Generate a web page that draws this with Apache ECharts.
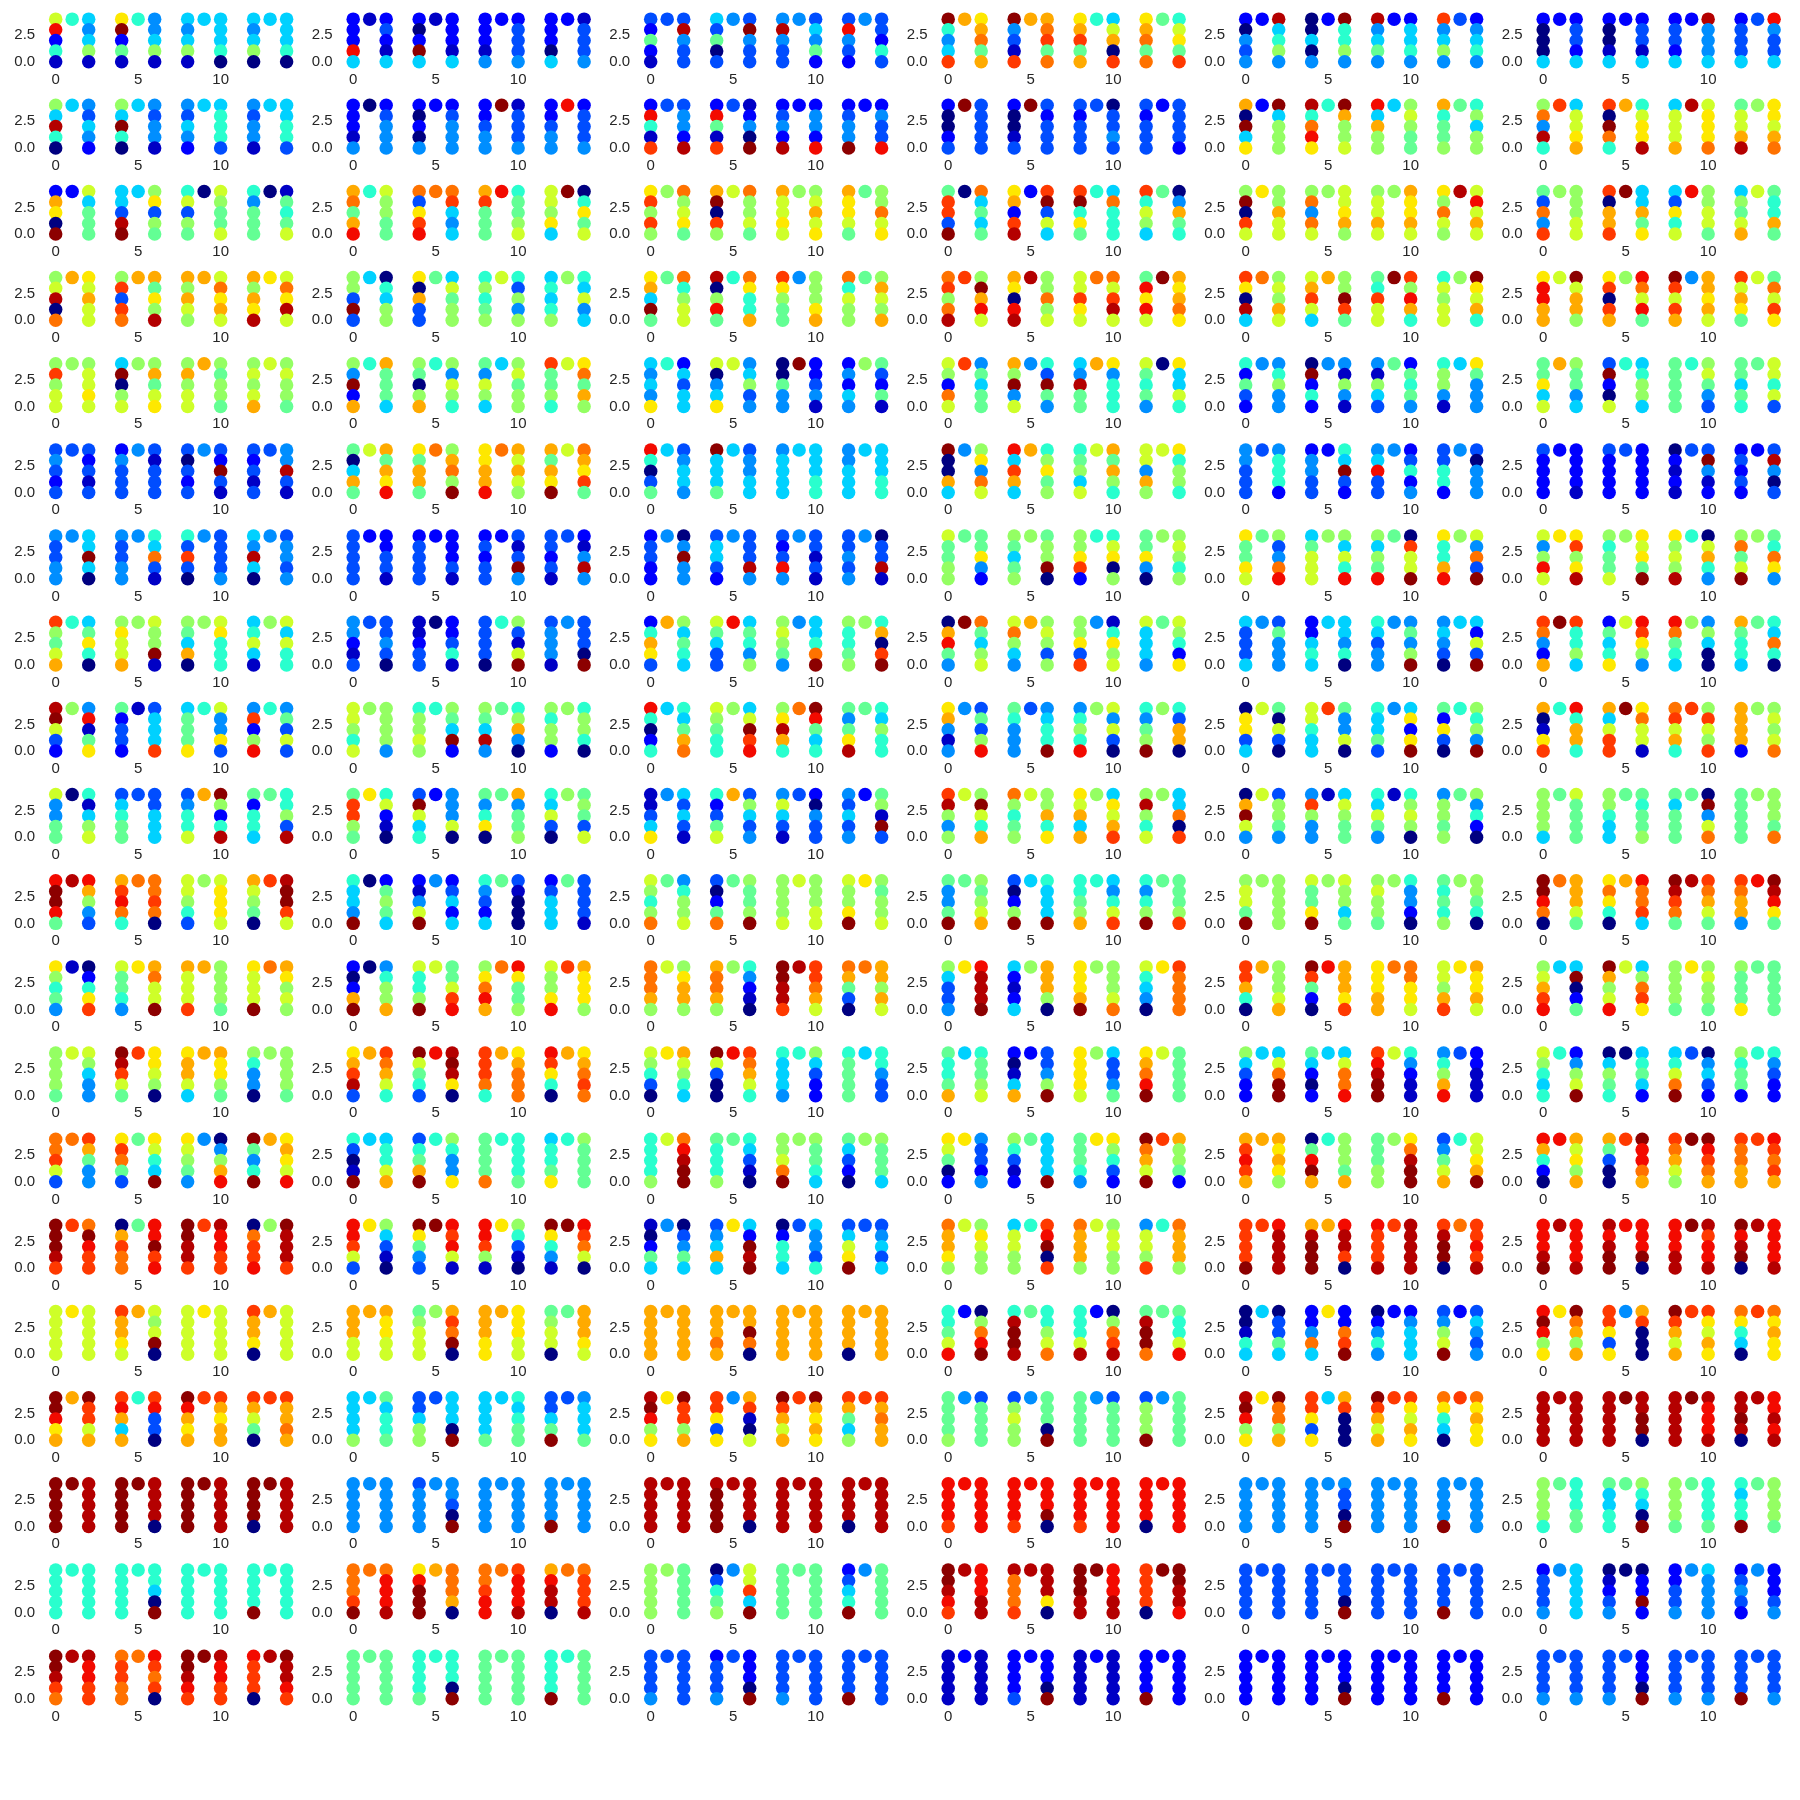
<!DOCTYPE html>
<html>
<head>
<meta charset="utf-8">
<script src="https://cdn.jsdelivr.net/npm/echarts@6/dist/echarts.min.js"></script>
<style>
html,body{margin:0;padding:0;background:#ffffff;}
#chart{width:1800px;height:1800px;}
</style>
</head>
<body>
<div id="chart"></div>
<script>
// ---------------- data ----------------
const panelRows = 20;
const panelCols = 6;
// x position where each of the four "n" shapes starts
const groupStarts = [0, 4, 8, 12];
// y values of one column, listed top to bottom
const columnYs = [4, 3, 2, 1, 0];
const xTickValues = [0, 5, 10];
const yTickValues = [0, 2.5];
// colour level codes -> value on the jet scale (0..1)
const levelCodes = "0123456789abcdefg";
const levelValues = [0, 0.06, 0.12, 0.2, 0.265, 0.33, 0.4, 0.47, 0.53, 0.6, 0.665, 0.73, 0.79, 0.85, 0.9, 0.955, 0.99];
// one string per panel (row by row), four groups; each group = left column (top->bottom), top middle, right column (top->bottom)
const panelCodes = [
"9e261654581 ag271644581 54581555560 54580555560",
"222e5123215 202g5122215 22214223334 22205213334",
"3272133f433 5370343g433 4f433435472 3e432433263",
"g645dbabc7b g431dbbcd7c abd7b659b0d abc7c769a7d",
"204342f5684 005042g6684 f4574225564 d4584324564",
"20005223325 20015223315 233252f4445 233353e4335",

"85f60543542 85g60543441 43542556663 43441555663",
"22214023444 20204223444 22344g13334 22344e23334",
"2e61d33442f 2e71d31240g 2342f22442e 2344g22433e",
"20023g33333 20013g32333 32333303343 32333233332",
"b0g5a2g5888 f6cea6gb889 e5b88589877 b6778768588",
"8c4f6d599ab d0gc6b69aaf 5999bf9aaac 799bf8aa9bc",

"2ba0g295777 553fg58a387 69387098779 64777017679",
"bc7be698877 c3adeccd545 bd777e67789 998a5g06a79",
"ad8d88c89a7 bg0d89c8897 b99a9889b9a baa97788c9a",
"7dd3g0c5757 ab2df2dg395 dg6a765c666 d6985704b76",
"8g0d9a88b99 8c4c9899ab8 899b98baab9 a8c98f9e9b9",
"73c4d888899 d0bbdg55b7a 53a69e88997 5879b9766b7",

"89f0cba9b99 8d3dcbb7a8f b8b98b9cab9 b8bafa9caf9",
"883g3506588 a0b33759788 68678963848 56568865945",
"ab5g77c6899 f08e76ca66b da8774888ab c698878b98b",
"cd8cfd8gbe9 ba0eff88c89 99da9cc9df9 7eae9gbabca",
"da0f5c898b9 9bd95b88gd7 76d99gd8eb6 698998ga9b6",
"aeebb9g9bb8 ad0db8ec9e7 gd9db4bbab9 d9ba797c9da",

"8d8998899a9 5g08988b79a 8b899b87887 8989b989887",
"84g2b6b7775 8708b684986 74985589788 d77869ac7b8",
"5454a625355 9045a945834 00744g22341 24254873271",
"982c9d47577 b8g49463g74 54f77ba4666 976740a5596",
"62732446844 0g262441841 41853727674 688415a7444",
"77a59b87745 3g209656885 77777689743 77576799693",

"34323332313 24333431333 30323432g31 32313344f31",
"705b79b7bae a7bb7c8bc8g aabbecb9b98 b7bag9cbad7",
"e6037534554 g5557534455 45555555566 44555555566",
"g00b548a4c9 e5db5b68a78 678599b7b86 994b89a6886",
"44333346662 24433265g32 45e33423624 33662430444",
"32222222221 32222322222 0212133g412 2323223f403",

"43344455g50 43344465c31 63d30433334 54f50434434",
"33333222331 23333222231 232332313g4 332313214f4",
"23322404g44 355324333f4 323e4433131 334344033f1",
"97788777a42 875788788g0 88ad2669a08 77a40889868",
"a77a97834ce 5799988596e 8587e70d99g a66be894c3g",
"948e9aad8af 867798a9a7g a898f609b64 8c79g876ca4",

"d879b657a60 8a99b8988g1 875b089a666 56951895966",
"44213333430 11233022361 3333068319g 3444143330g",
"26ba3b85765 97533e57648 898744556cg 8667886b0dg",
"0be74gc7589 9c854b89838 88a3d416a89 9555479862a",
"53335437444 22565555460 6534444748g 4543055293g",
"dc42bgd6685 2756a9eda84 ec765848500 b7665765c60",

"fg93284e17a 7233213555d 5777a6944a3 4d28e647393",
"99869888884 688986875g2 875f4768b40 86882868860",
"e60265657bc 98766859gde 8afb6cge756 747af765866",
"ab41443738e 7644434566g 4686e894930 6478g863bb0",
"0aa35970930 99655d74490 6557345a2ag 72a3068684g",
"b01ad6e6bb6 b59ddgac991 cd9b6d8d98d bbbb288989c",

"94477061589 35677333555 34669bg826f 7266576683f",
"7dd87a69210 3g956244490 746a07b4778 65930878739",
"1135a453531 62379b38534 49531320433 435342781g3",
"df84898g96b c8678988b6a a9b5b85a9bd 8f869855c0d",
"0bg94938874 4d844159877 65974168980 48878784620",
"88885797777 88655776778 7577770g49c 7777788887c",

"egge7feb843 bdec6cccdc0 9986389aaa9 b9870dfggd9",
"6554g027875 2149g423525 64325731000 23555733331",
"9868c746889 3027c78778g 88889988899 988aga87889",
"7447g78789b 3028g56555g 6678b65469d 6468g77778d",
"8997g888888 977ag898857 89887864420 76768888760",
"ggec0cbbb97 aca60beccd5 gfdc7fdcb97 dcbb4egfea7",

"a86741026ad 97764abc99g b999db88887 a999gcba898",
"202bg04688b 9668g9779de 8acebcea778 988aedbaaa8",
"cccb898abb8 bccb8864210 ggffdfddcb9 cb730cbb8b9",
"85334aefffg 521258bbb80 aaabg88889c 96540adcccc",
"ddb60b8889b gd720ebbbad aaabbcccaa9 998bdabaab9",
"89bde55g027 gb89e958cda 88887a89887 8777a777777",

"88887998544 gfd97daa980 abb95bbaa87 86440888887",
"abdf3bdcb96 g9763efgfa0 dddc6babccc eda60babcdc",
"98630ab9865 g9300edcb96 65554685322 67777566433",
"7667b567789 2015b23348g aaaa9853347 abceg977777",
"85322559cgg 75202559cce defgg964211 468be322111",
"9865662489g 05876056752 569cg304532 86772664322",

"ccd93cdb744 adc737a965g a98744048be g746gbaba9e",
"6301g55669b 367bg68644a 7777c666667 5667a687777",
"666689cefgg 76668765310 889cg887765 75320887775",
"a9702a43324 8631275555g 77764aa8632 gcb9gdb8872",
"bdedbbbaba8 07egb68887b 777888acfgg 3479b699abg",
"eb620eb9a8b b7300dgeecb dcb98ggedcb dccbbdedcdb",

"gggfddcgedd 0bdcc7eegde ggffddfeedd 0cdde8gfffd",
"eed93a85310 ga743gede91 eed81a86310 ga641gedc90",
"10275403475 345b5a52gfg 02665354436 359ag334535",
"cbba898a988 599886deg0d cbbb8989988 4998d6cbbb8",
"ddddgdeffff bfgggbeffd0 edddfdfffff dfgg0cddedf",
"eeefgfeeeef fefggeeeeg0 eeeffgfdeef gefg0feeeef",

"99999a99999 dbba9b989g0 99999a99999 dbba0b99999",
"bbb99bbaa99 789998bdcg0 bbbaabaaa99 789907bbba9",
"bbbbbbbbbbb bbbcbbbbgc0 bbbbbbbbbbb bbbb0bbbbbb",
"6679e208ceg 6fggf76689c 6669f208cdf 7fggc77669e",
"00165503375 224c5a22cdg 02464224555 3489g235434",
"ege8aagcb8b dda3a4bd000 gdb9bdda9ba ca650dcabaa",

"ggeabbgdd9b deb5b6de330 gebabddbabb db970ddbbcb",
"55558575667 3358835550g 55557565677 3357g345557",
"fge8aagdd8b dda3a4bd109 gdb9bdgbaba db758ddbcbb",
"77778437777 3898847770g 77777437777 3888g477777",
"fge8aagcc8b dda3a5bd000 gdb9bdda9ba ca650dcabaa",
"fffffffffff fffffgffgg0 fffffgfeeef ffgf0feefef",

"ggggggfffff ggggggffff0 ggggggfffff gggg0gfffff",
"44444444444 3444444430g 44444444444 4444g444444",
"fffffffffff fggggfffff0 fffffffffff ffff0ffffff",
"eeeedeeeeee eeeedeeeeg0 eeeedeeeeee eeee0eeeeee",
"44444444444 4444444330g 44444444444 4444g444444",
"88886766677 7556678650g 88887766667 6566g788887",

"66666666666 6666666650g 66666666666 6666g666666",
"cccdgcceeef aegggbcccb0 ccdeecdeeef beff0ccdddf",
"88888877777 03678499d5g 77777777777 2356g477777",
"ggfedfeeeff fcccdffffa0 gggffgeeeff dddd0gggffe",
"33333333333 3333333330g 33333333333 3333g333333",
"23334455555 012340022g2 22334454444 23432422234",

"ggfdcffeedd cddcccedcd0 ggfedgfeedd eddd0fgffed",
"77777777777 6666766660g 77777777777 6666g677777",
"33334333333 2333432220g 33334333333 3333g333333",
"11111211111 2222322220g 11111211111 2222g222222",
"22222222222 2222222220g 22222222222 2222g222222",
"33334333334 3333432220g 33334333334 3333g333334"
];

// ---------------- styling / layout ----------------
function interpSeg(t, pts) {
  for (let i = 1; i < pts.length; i++) {
    if (t <= pts[i][0]) {
      const [x0, y0] = pts[i - 1], [x1, y1] = pts[i];
      return y0 + (y1 - y0) * (t - x0) / (x1 - x0);
    }
  }
  return pts[pts.length - 1][1];
}
function jet(t) {
  const r = interpSeg(t, [[0,0],[0.35,0],[0.66,1],[0.89,1],[1,0.5]]);
  const g = interpSeg(t, [[0,0],[0.125,0],[0.375,1],[0.64,1],[0.91,0],[1,0]]);
  const b = interpSeg(t, [[0,0.5],[0.11,1],[0.34,1],[0.65,0],[1,0]]);
  const h = v => Math.round(Math.max(0, Math.min(1, v)) * 255).toString(16).padStart(2, '0');
  return '#' + h(r) + h(g) + h(b);
}
const jetStops = [];
for (let i = 0; i <= 64; i++) jetStops.push(jet(i / 64));

function panelPoints(codeStr) {
  const groups = codeStr.split(' ');
  const pts = [];
  groups.forEach((grp, gi) => {
    const x0 = groupStarts[gi];
    const val = ch => levelValues[levelCodes.indexOf(ch)];
    for (let k = 0; k < 5; k++) pts.push([x0, columnYs[k], val(grp[k])]);
    pts.push([x0 + 1, 4, val(grp[5])]);
    for (let k = 0; k < 5; k++) pts.push([x0 + 2, columnYs[k], val(grp[6 + k])]);
  });
  return pts;
}

const LEFT0 = 44.15, COL_STEP = 297.5, PLOT_W = 254;
const TOP0 = 17, ROW_STEP = 86.16, PLOT_H = 46.9;
const labelStyle = { fontFamily: 'Liberation Sans, Arial, sans-serif', fontSize: 15, color: '#262626' };

const grids = [], xAxes = [], yAxes = [], series = [];
for (let r = 0; r < panelRows; r++) {
  for (let c = 0; c < panelCols; c++) {
    const i = r * panelCols + c;
    grids.push({ left: LEFT0 + COL_STEP * c, top: TOP0 + ROW_STEP * r, width: PLOT_W, height: PLOT_H, containLabel: false });
    xAxes.push({
      gridIndex: i, type: 'value', min: -0.7, max: 14.7,
      axisLine: { show: false }, axisTick: { show: false }, splitLine: { show: false },
      axisLabel: Object.assign({ customValues: xTickValues, formatter: v => String(v), margin: 8 }, labelStyle)
    });
    yAxes.push({
      gridIndex: i, type: 'value', min: -0.2, max: 4.2,
      axisLine: { show: false }, axisTick: { show: false }, splitLine: { show: false },
      axisLabel: Object.assign({ customValues: yTickValues, formatter: v => Number(v).toFixed(1), margin: 9 }, labelStyle)
    });
    series.push({
      type: 'scatter', xAxisIndex: i, yAxisIndex: i,
      symbol: 'circle', symbolSize: 13.5, clip: true,
      data: panelPoints(panelCodes[i]),
      itemStyle: { opacity: 1 },
      emphasis: { disabled: true }
    });
  }
}

const chart = echarts.init(document.getElementById('chart'), null, { renderer: 'canvas', width: 1800, height: 1800 });
chart.setOption({
  backgroundColor: '#ffffff',
  animation: false,
  grid: grids,
  xAxis: xAxes,
  yAxis: yAxes,
  visualMap: {
    type: 'continuous', show: false, min: 0, max: 1, dimension: 2,
    seriesIndex: series.map((s, i) => i),
    inRange: { color: jetStops }
  },
  series: series
});
</script>
</body>
</html>
